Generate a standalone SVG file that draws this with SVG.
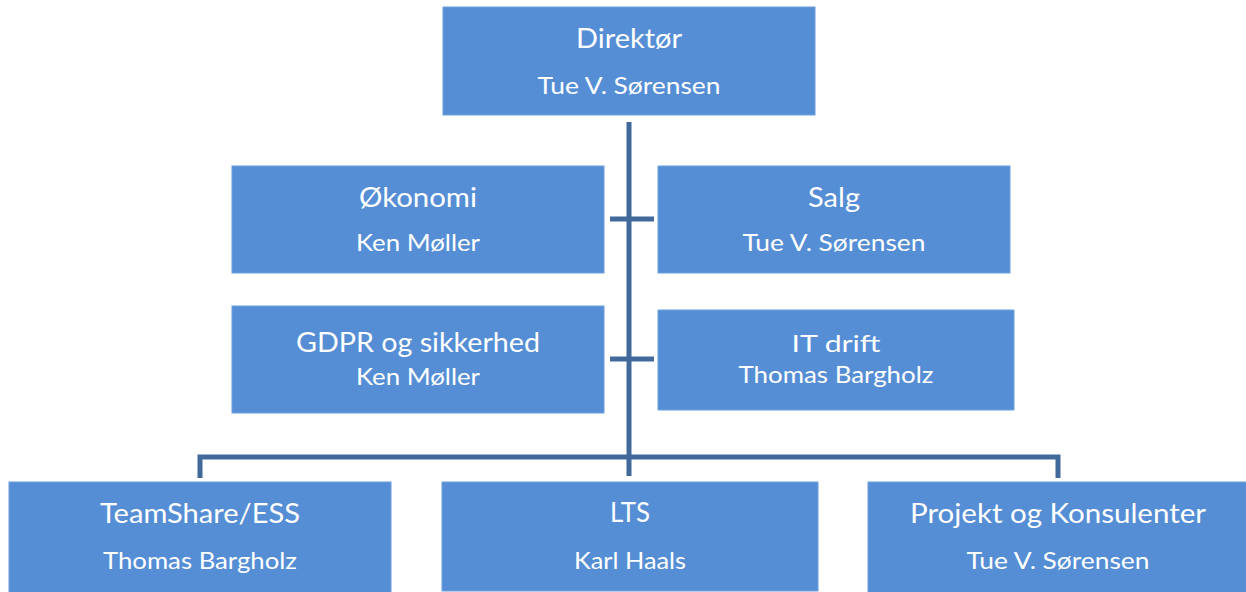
<svg xmlns="http://www.w3.org/2000/svg" width="1246" height="592" viewBox="0 0 1246 592">
<style>
.box{fill:#558ED5;stroke:#6E9EDB;stroke-width:1}
.t{font-family:Lato,"Open Sans","Liberation Sans",sans-serif;fill:#FFFFFF;text-anchor:middle}
.h{font-size:27px}
.n{font-size:23px}
.c{fill:none;stroke:#41699A;stroke-width:5}
</style>
<rect width="1246" height="592" fill="#FFFFFF"/>
<g id="connectors">
<path class="c" d="M629 122 V476"/>
<path class="c" d="M610 219 H654"/>
<path class="c" d="M610 359 H654"/>
<path class="c" d="M200 478 V457 H1058 V478"/>
</g>
<g id="direktor">
<rect class="box" x="443" y="7" width="372" height="108"/>
<text class="t h" x="629" y="48" textLength="106" lengthAdjust="spacingAndGlyphs">Direktør</text>
<text class="t n" x="629" y="94" textLength="183" lengthAdjust="spacingAndGlyphs">Tue V. Sørensen</text>
</g>
<g id="okonomi">
<rect class="box" x="232" y="166" width="372" height="107"/>
<text class="t h" x="418" y="207" textLength="118" lengthAdjust="spacingAndGlyphs">Økonomi</text>
<text class="t n" x="418" y="251" textLength="124" lengthAdjust="spacingAndGlyphs">Ken Møller</text>
</g>
<g id="salg">
<rect class="box" x="658" y="166" width="352" height="107"/>
<text class="t h" x="834" y="207" textLength="52" lengthAdjust="spacingAndGlyphs">Salg</text>
<text class="t n" x="834" y="251" textLength="183" lengthAdjust="spacingAndGlyphs">Tue V. Sørensen</text>
</g>
<g id="gdpr">
<rect class="box" x="232" y="306" width="372" height="107"/>
<text class="t h" x="418" y="352" textLength="244" lengthAdjust="spacingAndGlyphs">GDPR og sikkerhed</text>
<text class="t n" x="418" y="385" textLength="124" lengthAdjust="spacingAndGlyphs">Ken Møller</text>
</g>
<g id="itdrift">
<rect class="box" x="658" y="310" width="356" height="100"/>
<text class="t n" x="836" y="352" textLength="89" lengthAdjust="spacingAndGlyphs">IT drift</text>
<text class="t n" x="836" y="383" textLength="195" lengthAdjust="spacingAndGlyphs">Thomas Bargholz</text>
</g>
<g id="teamshare">
<rect class="box" x="9" y="482" width="382" height="115"/>
<text class="t h" x="200" y="523" textLength="200" lengthAdjust="spacingAndGlyphs">TeamShare/ESS</text>
<text class="t n" x="200" y="569" textLength="194" lengthAdjust="spacingAndGlyphs">Thomas Bargholz</text>
</g>
<g id="lts">
<rect class="box" x="442" y="482" width="376" height="109"/>
<text class="t h" x="630" y="522" textLength="40" lengthAdjust="spacingAndGlyphs">LTS</text>
<text class="t n" x="630" y="569" textLength="112" lengthAdjust="spacingAndGlyphs">Karl Haals</text>
</g>
<g id="projekt">
<rect class="box" x="868" y="482" width="384" height="115"/>
<text class="t h" x="1058" y="523" textLength="296" lengthAdjust="spacingAndGlyphs">Projekt og Konsulenter</text>
<text class="t n" x="1058" y="569" textLength="183" lengthAdjust="spacingAndGlyphs">Tue V. Sørensen</text>
</g>
</svg>
